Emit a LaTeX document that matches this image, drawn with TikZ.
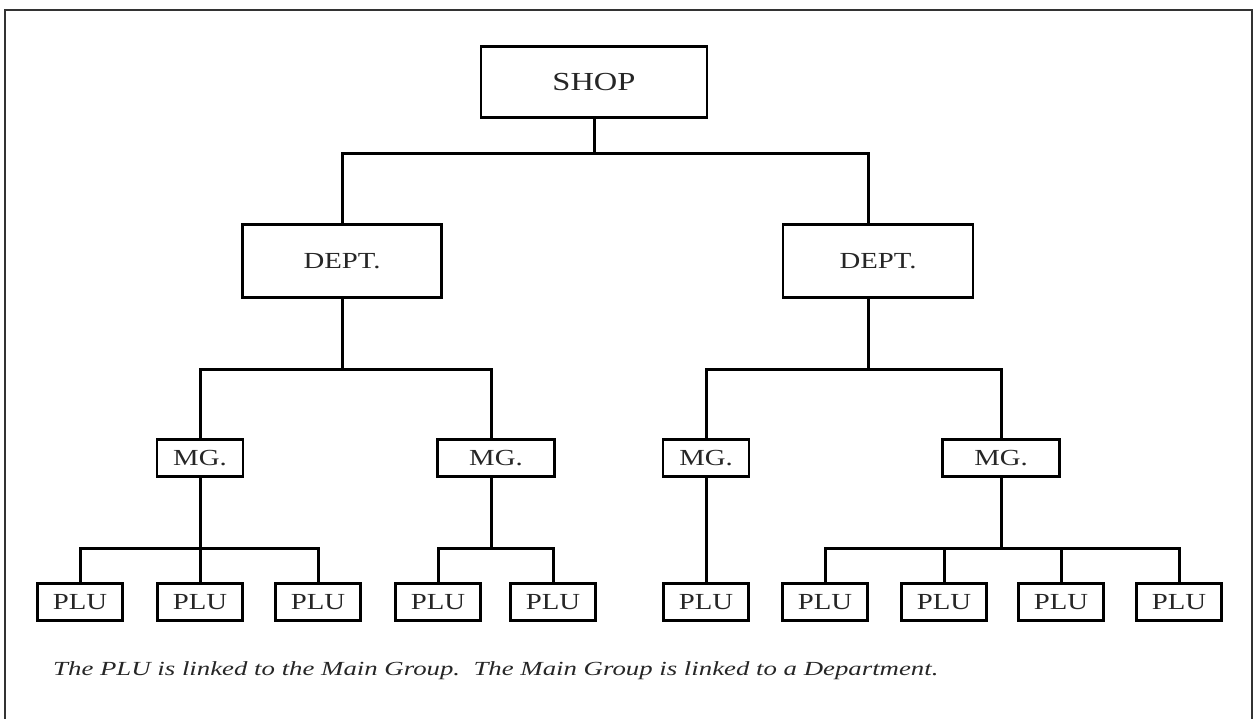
\documentclass[tikz,border=0pt]{standalone}
\usepackage{fontspec}
\setmainfont{Liberation Serif}
\newfontfamily\boxfont[FakeStretch=1.25]{Liberation Serif}
\newfontfamily\notefont[FakeStretch=1.34]{Liberation Serif}
\usetikzlibrary{calc}

\begin{document}
\begin{tikzpicture}[
        x=1pt, y=-1pt,
        unit/.style={draw, line width=2.8pt, inner sep=0pt, text=black!85, font=\boxfont\fontsize{23}{26}\selectfont},
        plu/.style={unit, minimum width=85pt, minimum height=37pt},
        mg/.style={unit, minimum height=37pt},
        link/.style={line width=3pt}
    ]
        \useasboundingbox (0,0) rectangle (1255,719);
        \draw[line width=2.2pt, black!80] (5,719) -- (5,10) -- (1252,10) -- (1252,719);

        % boxes
        \node[unit, minimum width=226pt, minimum height=71pt, font=\boxfont\fontsize{26}{30}\selectfont] (shop) at (594,82) {SHOP};
        \node[unit, minimum width=199pt, minimum height=73pt] (deptL) at (342,261) {DEPT.};
        \node[unit, minimum width=190pt, minimum height=73pt] (deptR) at (878,261) {DEPT.};
        \node[mg, minimum width=86pt] (mg1) at (200,458) {MG.};
        \node[mg, minimum width=117pt] (mg2) at (496,458) {MG.};
        \node[mg, minimum width=86pt] (mg3) at (706,458) {MG.};
        \node[mg, minimum width=117pt] (mg4) at (1001,458) {MG.};
        \foreach \i/\x in {1/80,2/200,3/318,4/438,5/553,6/706,7/825,8/944,9/1061,10/1179}
            \node[plu] (plu\i) at (\x,602) {PLU};

        % bus levels and off-centre drops
        \coordinate (busTop) at (0,154);
        \coordinate (busMid) at (0,369);
        \coordinate (busLow) at (0,548);
        \coordinate (deptRtop) at ($(deptR.north)+(-10,0)$);
        \coordinate (deptRbot) at ($(deptR.south)+(-10,0)$);
        \coordinate (mg2top) at ($(mg2.north)+(-5,0)$);
        \coordinate (mg2bot) at ($(mg2.south)+(-5,0)$);

        % shop -> departments
        \draw[link] (shop.south) -- (shop.south |- busTop);
        \draw[link] (deptL.north) |- (deptRtop |- busTop) -- (deptRtop);

        % departments -> main groups
        \draw[link] (deptL.south) -- (deptL.south |- busMid);
        \draw[link] (mg1.north) |- (mg2top |- busMid) -- (mg2top);
        \draw[link] (deptRbot) -- (deptRbot |- busMid);
        \draw[link] (mg3.north) |- (mg4.north |- busMid) -- (mg4.north);

        % main groups -> PLUs
        \draw[link] (mg1.south) -- (plu2.north);
        \draw[link] (plu1.north) |- (plu3.north |- busLow) -- (plu3.north);
        \draw[link] (mg2bot) -- (mg2bot |- busLow);
        \draw[link] (plu4.north) |- (plu5.north |- busLow) -- (plu5.north);
        \draw[link] (mg3.south) -- (plu6.north);
        \draw[link] (mg4.south) -- (mg4.south |- busLow);
        \draw[link] (plu7.north) |- (plu10.north |- busLow) -- (plu10.north);
        \draw[link] (plu8.north) -- (plu8.north |- busLow);
        \draw[link] (plu9.north) -- (plu9.north |- busLow);

        \node[anchor=base west, inner sep=0pt, text=black!85, font=\notefont\itshape\fontsize{20}{24}\selectfont] (note) at (53,675) {The PLU is linked to the Main Group.\ \ The Main Group is linked to a Department.};
    \end{tikzpicture}
\end{document}
